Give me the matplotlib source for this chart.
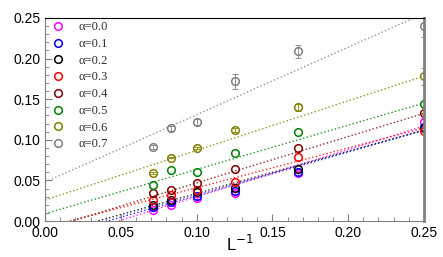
import matplotlib.pyplot as plt
import numpy as np

# 1/L values
inv_L = [1/14, 1/12, 1/10, 1/8, 1/6, 1/4]

alphas = ["0.0", "0.1", "0.2", "0.3", "0.4", "0.5", "0.6", "0.7"]
colors = ["#ff00ff", "#0000ff", "#000000", "#ff0000", "#800000", "#008000", "#808000", "#808080"]

y_a00 = [0.014, 0.020, 0.028, 0.035, 0.059, 0.122]
y_a01 = [0.017, 0.023, 0.031, 0.037, 0.060, 0.116]
y_a02 = [0.020, 0.026, 0.036, 0.041, 0.064, 0.115]
y_a03 = [0.026, 0.032, 0.038, 0.048, 0.079, 0.111]
y_a04 = [0.034, 0.038, 0.047, 0.064, 0.090, 0.133]
y_a05 = [0.044, 0.063, 0.060, 0.084, 0.110, 0.144]
y_a06 = [0.059, 0.078, 0.090, 0.112, 0.140, 0.178]
y_a07 = [0.091, 0.114, 0.122, 0.172, 0.209, 0.240]
series = [y_a00, y_a01, y_a02, y_a03, y_a04, y_a05, y_a06, y_a07]

# error bars (only visible on some)
err_a00 = [0.001, 0.001, 0.001, 0.002, 0.003, 0.005]
err_a06 = [0.001, 0.001, 0.001, 0.002, 0.004, 0.010]
err_a07 = [0.002, 0.003, 0.004, 0.009, 0.008, 0.013]
errs = [err_a00, None, None, None, None, None, err_a06, err_a07]

# linear fits: intercept, slope
fit_b = [-0.028, -0.022, -0.018, -0.008, -0.010, 0.009, 0.026, 0.048]
fit_k = [0.580, 0.535, 0.520, 0.490, 0.570, 0.545, 0.610, 0.830]

fig = plt.figure(figsize=(4.43, 2.57), dpi=100)
ax = fig.add_axes([0.102, 0.140, 0.855, 0.790])

xf = np.array([0.0, 0.25])
for i in range(len(alphas)):
    ax.plot(xf, fit_b[i] + fit_k[i] * xf, ':', color=colors[i], lw=1.0, alpha=0.85)
for i in range(len(alphas)):
    if errs[i] is not None:
        ax.errorbar(inv_L, series[i], yerr=errs[i], fmt='none', ecolor=colors[i],
                    elinewidth=0.6, capsize=2.5, capthick=0.6)
    ax.plot(inv_L, series[i], 'o', mfc='none', mec=colors[i], ms=5.5, mew=1.1,
            label="\u03b1=" + alphas[i], linestyle='none')

ax.set_xlim(0, 0.25)
ax.set_ylim(0, 0.25)
ax.set_xticks([0, 0.05, 0.1, 0.15, 0.2, 0.25])
ax.set_yticks([0, 0.05, 0.1, 0.15, 0.2, 0.25])
ax.set_xticklabels(["0.00", "0.05", "0.10", "0.15", "0.20", "0.25"])
ax.set_yticklabels(["0.00", "0.05", "0.10", "0.15", "0.20", "0.25"])
ax.set_xticks(np.arange(0, 0.2501, 0.01), minor=True)
ax.set_yticks(np.arange(0, 0.2501, 0.01), minor=True)
ax.tick_params(which='both', direction='in', colors='#808080', labelcolor='black',
               labelsize=10, top=False, right=False)
ax.tick_params(which='major', length=5)
ax.tick_params(which='minor', length=3)
for lab in ax.get_xticklabels() + ax.get_yticklabels():
    lab.set_family("Liberation Sans")

ax.spines['top'].set_color('black')
ax.spines['left'].set_color('#808080')
ax.spines['bottom'].set_color('#808080')
ax.spines['right'].set_color('#808080')
ax.spines['right'].set_linewidth(2)

ax.set_xlabel("L$^{-1}$", fontsize=12, family="Liberation Sans")
ax.xaxis.set_label_coords(0.515, -0.065)

leg = ax.legend(loc='upper left', bbox_to_anchor=(0.0, 1.015), frameon=False,
                prop={'family': 'Liberation Serif', 'size': 9},
                handletextpad=1.2, labelspacing=0.38, borderaxespad=0.1, handlelength=1.0)
for t in leg.get_texts():
    t.set_color('#303030')

fig.savefig("out.png", dpi=100)
